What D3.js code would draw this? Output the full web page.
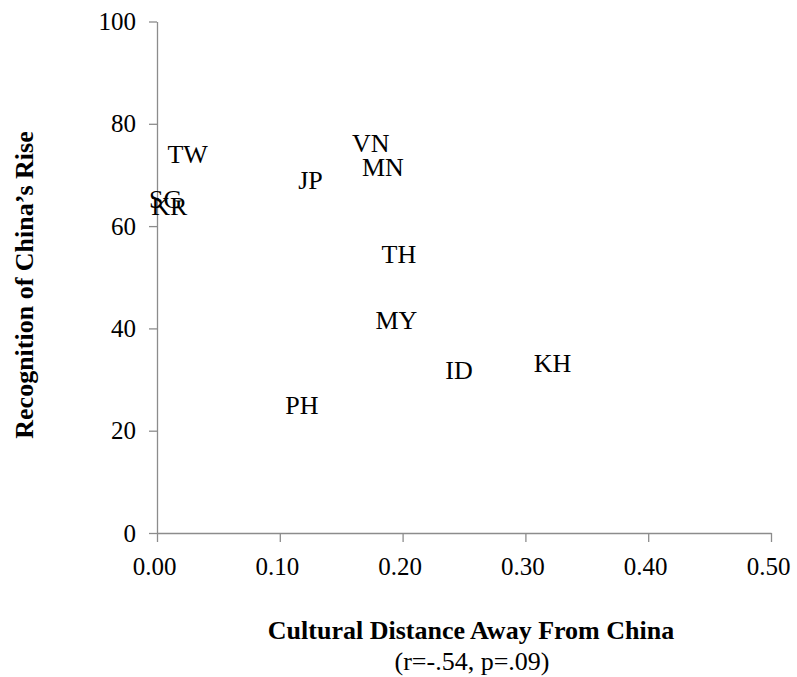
<!DOCTYPE html>
<html>
<head>
<meta charset="utf-8">
<script src="https://cdn.jsdelivr.net/npm/d3@7"></script>
<style>
  body { margin: 0; background: #fff; }
  svg text { font-family: "Liberation Serif", "Times New Roman", Times, serif !important; fill: #000; }
</style>
</head>
<body>
<div class="container"></div>
<script>
// country codes with (cultural distance, recognition)
let codes = ["TW", "SG", "KR", "JP", "VN", "MN", "TH", "MY", "ID", "KH", "PH"];
let distance = [0.025, 0.007, 0.01, 0.125, 0.174, 0.184, 0.197, 0.195, 0.246, 0.322, 0.118];
let recognition = [74.0, 65.3, 63.9, 69.0, 76.1, 71.5, 54.4, 41.6, 31.7, 33.1, 25.0];

let xTicks = [0, 0.1, 0.2, 0.3, 0.4, 0.5];
let yTicks = [0, 20, 40, 60, 80, 100];

let xTitle = "Cultural Distance Away From China";
let xSub = "(r=-.54, p=.09)";
let yTitle = "Recognition of China\u2019s Rise";

let serif = "'Liberation Serif', 'Times New Roman', serif";

let margin = { top: 21.5, right: 26, bottom: 144, left: 157 },
    width = 797 - margin.left - margin.right,
    height = 677 - margin.top - margin.bottom;

let svg = d3.select(".container")
    .append("svg")
    .attr("width", 797)
    .attr("height", 677)
    .attr("font-family", serif)
    .append("g")
    .attr("transform", "translate(" + margin.left + "," + margin.top + ")");

let x = d3.scaleLinear().domain([0, 0.5]).range([0, width]);
let y = d3.scaleLinear().domain([0, 100]).range([height, 0]);

let axisColor = "#8c8c8c";

// y axis
let gy = svg.append("g")
    .attr("class", "axis")
    .call(d3.axisLeft(y).tickValues(yTicks).tickSizeInner(8).tickSizeOuter(0).tickPadding(13));

// x axis
let gx = svg.append("g")
    .attr("class", "axis")
    .attr("transform", "translate(0," + height + ")")
    .call(d3.axisBottom(x).tickValues(xTicks).tickFormat(d3.format(".2f")).tickSizeInner(9).tickSizeOuter(0));

svg.selectAll(".axis").attr("font-family", serif).attr("font-size", 25);
svg.selectAll(".axis path").attr("stroke", axisColor).attr("stroke-width", 1.3);
svg.selectAll(".axis line").attr("stroke", axisColor).attr("stroke-width", 1.3);
svg.selectAll(".axis text").attr("fill", "#000");
gx.selectAll("text").attr("y", 24).attr("dx", -3);

// labels as marks
svg.append("g")
    .selectAll("text")
    .data(codes)
    .enter()
    .append("text")
    .attr("class", "code")
    .attr("x", function (d, i) { return x(distance[i]); })
    .attr("y", function (d, i) { return y(recognition[i]); })
    .attr("dy", "0.33em")
    .attr("text-anchor", "middle")
    .attr("font-size", 26)
    .text(function (d) { return d; });

// axis titles
svg.append("text")
    .attr("x", 314)
    .attr("y", 639 - margin.top)
    .attr("text-anchor", "middle")
    .attr("font-size", 26)
    .attr("font-weight", "bold")
    .text(xTitle);

svg.append("text")
    .attr("x", 315)
    .attr("y", 670 - margin.top)
    .attr("text-anchor", "middle")
    .attr("font-size", 26)
    .text(xSub);

svg.append("text")
    .attr("transform", "translate(" + (33 - margin.left) + "," + (285 - margin.top) + ") rotate(-90)")
    .attr("text-anchor", "middle")
    .attr("font-size", 26)
    .attr("font-weight", "bold")
    .text(yTitle);
</script>
</body>
</html>
